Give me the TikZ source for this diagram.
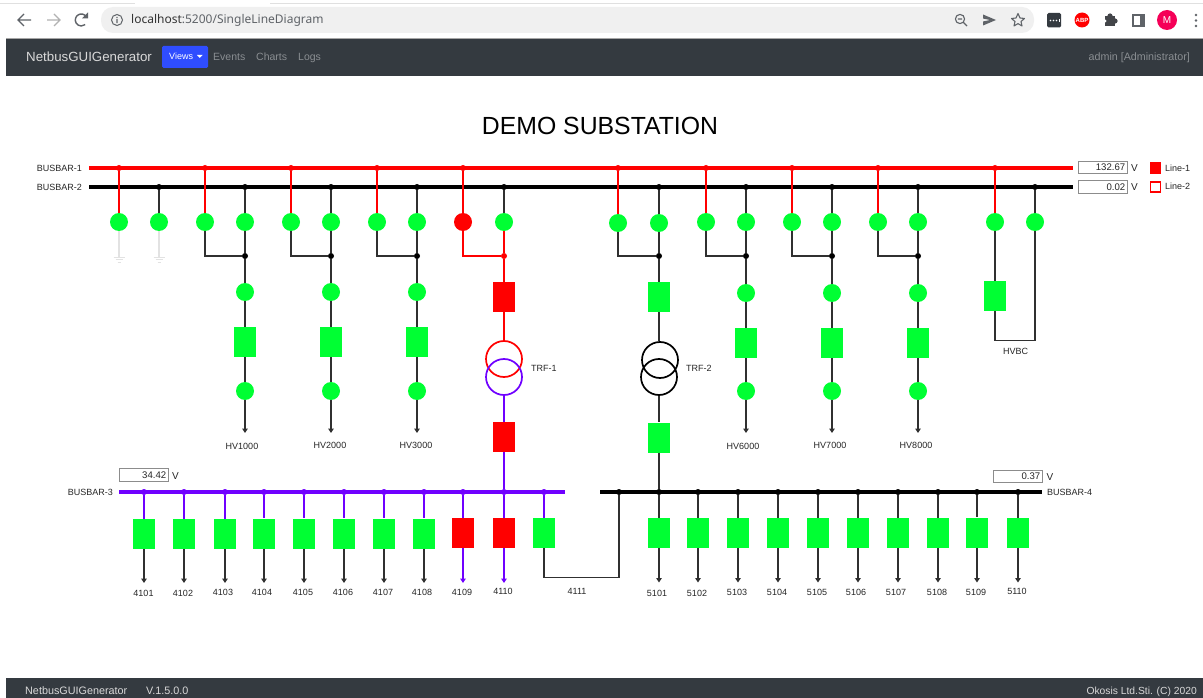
\documentclass[tikz,border=0pt]{standalone}
\usepackage{fontspec}
\setmainfont{Liberation Sans}
\newfontfamily\chromefont{Noto Sans}
\usetikzlibrary{arrows.meta}
\definecolor{gn}{HTML}{00FF33}
\definecolor{rd}{HTML}{FF0000}
\definecolor{bl}{HTML}{6F00FF}
\definecolor{dk}{HTML}{303030}
\definecolor{navc}{HTML}{343A40}
\definecolor{mut}{HTML}{8A8E92}
\definecolor{icn}{HTML}{5F6368}
\definecolor{grd}{HTML}{E2E2E2}
\definecolor{viewsc}{HTML}{2F4DFF}
\definecolor{pinkm}{HTML}{F50057}
\newcommand{\px}[1]{\fontsize{#1}{#1}\selectfont}
\tikzset{
  x=1pt,y=-1pt,
  txt/.style={inner sep=0pt,text=black!85,font=\px{9}},
  sw/.style={circle,minimum size=18pt,inner sep=0pt,fill=gn},
  swon/.style={sw,fill=rd},
  brk/.style={rectangle,minimum width=22pt,minimum height=30pt,inner sep=0pt,fill=gn},
  brkon/.style={brk,fill=rd},
  jn/.style={circle,minimum size=6pt,inner sep=0pt,fill=#1},
  jn/.default=black,
  busr/.style={line width=3.6pt,draw=rd},
  busk/.style={line width=3.6pt,draw=black},
  busb/.style={line width=3.6pt,draw=bl},
  wire/.style={line width=1.25pt,draw=dk},
  wr/.style={line width=1.15pt,draw=rd},
  wb/.style={line width=1.25pt,draw=bl},
  wg/.style={line width=1.25pt,draw=grd},
  arr/.style={-{Triangle[width=5.5pt,length=4.5pt]}},
  valbox/.style={rectangle,draw=black!45,line width=1.1pt,fill=white,inner xsep=0pt,inner ysep=0pt,
    minimum height=12.5pt,text width=49pt,align=right,font=\px{9.6},text=black!85},
  navt/.style={inner sep=0pt,text=mut,font=\px{10.5},text height=8pt,text depth=2pt},
  foott/.style={inner sep=0pt,text=black!15,text height=8pt,text depth=2pt},
  trr/.style={circle,minimum size=36pt,inner sep=0pt,line width=1.7pt}
}
\begin{document}
\begin{tikzpicture}
\useasboundingbox (0,0) rectangle (1203,698);
\fill[white] (0,0) rectangle (1203,698);
% ---------- browser chrome
\draw[black!12,line width=.8pt] (0,3) -- (135,3) (270,3) -- (1203,3);
\fill[black!6,rounded corners=12pt] (101,7) rectangle (1034,33);
\draw[icn,line width=1.4pt] (31,20) -- (18,20) (24,14) -- (18,20) -- (24,26);
\draw[black!30,line width=1.4pt] (47,20) -- (60,20) (54,14) -- (60,20) -- (54,26);
\draw[icn,line width=1.4pt] (86.5,17) arc[start angle=-30,end angle=-310,radius=6];
\fill[icn] (88,12.5) -- (88,18.5) -- (82,18.5) -- cycle;
\draw[icn,line width=1pt] (117,20) circle[radius=5.5];
\fill[icn] (116.4,19) rectangle (117.6,23.2) (116.4,16.8) rectangle (117.6,18);
\node[inner sep=0pt,anchor=west,font={\chromefont\px{12}},text=black!80] (url) at (131,20.7)
  {localhost\textcolor{icn}{:5200/SingleLineDiagram}};
\draw[icn,line width=1.1pt] (960,19) circle[radius=4.6] (963.5,22.5) -- (967,26) (957.8,19) -- (962.2,19);
\fill[icn] (983,14.5) -- (996,20) -- (983,25.5) -- (983,21.5) -- (990,20) -- (983,18.5) -- cycle;
\draw[icn,line width=1.1pt,line join=round] (1018,13.5) -- (1020,18) -- (1024.5,18.5) -- (1021,21.5) -- (1022,26) -- (1018,23.6) -- (1014,26) -- (1015,21.5) -- (1011.5,18.5) -- (1016,18) -- cycle;
\fill[navc,rounded corners=1.5pt] (1047,13) rectangle (1061,27.5);
\foreach \x in {1050.5,1053.5,1056.5} \fill[white] (\x,20.5) circle[radius=.8];
\fill[white] (1059,19) rectangle (1059.6,22);
\node[circle,fill=rd,minimum size=15pt,inner sep=0pt,text=white,font=\bfseries\px{6}] (abp) at (1082,20) {ABP};
\fill[icn!70!black] (1105,16) rectangle (1115,26);
\fill[icn!70!black] (1110,16) circle[radius=2.6] (1115,21) circle[radius=2.6];
\fill[white] (1105,21) circle[radius=1.6];
\draw[icn,line width=2pt] (1133,15) rectangle (1144,26);
\fill[icn] (1140,15) rectangle (1144,26);
\node[circle,fill=pinkm,minimum size=20pt,inner sep=0pt,text=white,font=\px{10}] (user) at (1167,20) {M};
\foreach \y in {15,20.5,26} \fill[icn] (1196,\y) circle[radius=1.3];
% ---------- navbar and footer
\fill[navc] (6,38) rectangle (1203,76);
\draw[black!35,line width=.7pt] (6,38) -- (1203,38);
\fill[navc] (6,678) rectangle (1203,698);
\node[foott,anchor=west,font=\px{13.3}] (brand) at (26,58.5) {NetbusGUIGenerator};
\fill[viewsc,rounded corners=1.5pt] (162,46) rectangle (208,68);
\node[inner sep=0pt,anchor=west,text=white,font=\px{9}] (views) at (169,56.5) {Views};
\fill[white] (197,55) -- (202.5,55) -- (199.75,58) -- cycle;
\node[navt,anchor=west] (events) at (213,58) {Events};
\node[navt,anchor=west] (charts) at (256,58) {Charts};
\node[navt,anchor=west] (logs) at (298,58) {Logs};
\node[navt,anchor=east,font=\px{10.7}] (admin) at (1190,58) {admin [Administrator]};
\node[foott,anchor=west,font=\px{10.8}] (fbrand) at (25,691.5) {NetbusGUIGenerator};
\node[foott,anchor=west,font=\px{10.8}] (fver) at (146,691.5) {V.1.5.0.0};
\node[foott,anchor=east,font=\px{10.3}] (fco) at (1197,691.5) {Okosis Ltd.Sti. (C) 2020};
% ---------- title
\node[inner sep=0pt,text=black,font=\px{24.8}] (title) at (600,126) {DEMO SUBSTATION};
% ---------- busbars
\coordinate (b1w) at (89,168); \coordinate (b1e) at (1073,168);
\coordinate (b2w) at (89,187); \coordinate (b2e) at (1073,187);
\coordinate (b3w) at (119,492); \coordinate (b3e) at (565,492);
\coordinate (b4w) at (600,492); \coordinate (b4e) at (1042,492);
\draw[busr] (b1w) -- (b1e);
\draw[busk] (b2w) -- (b2e);
\draw[busb] (b3w) -- (b3e);
\draw[busk] (b4w) -- (b4e);
\node[txt,anchor=east] (lb1) at (82,168) {BUSBAR-1};
\node[txt,anchor=east] (lb2) at (82,187) {BUSBAR-2};
\node[txt,anchor=east] (lb3) at (113,492) {BUSBAR-3};
\node[txt,anchor=west] (lb4) at (1047,492) {BUSBAR-4};
% value boxes
\node[valbox,anchor=west] (v1) at (1078.2,167.5) {132.67\hspace*{2.5pt}};
\node[valbox,anchor=west] (v2) at (1078.2,187) {0.02\hspace*{2.5pt}};
\node[valbox,anchor=west] (v3) at (119.2,475) {34.42\hspace*{2.5pt}};
\node[valbox,anchor=west] (v4) at (993.2,476.5) {0.37\hspace*{2.5pt}};
\node[txt,anchor=west,font=\px{10}] (u1) at (1131,168.5) {V};
\node[txt,anchor=west,font=\px{10}] (u2) at (1131,187.5) {V};
\node[txt,anchor=west,font=\px{10}] (u3) at (172,476) {V};
\node[txt,anchor=west,font=\px{10}] (u4) at (1046.5,477) {V};
% legend
\node[rectangle,fill=rd,minimum size=11.5pt,inner sep=0pt] (lg1) at (1155.5,168) {};
\node[rectangle,draw=rd,fill=white,line width=1.6pt,minimum size=10pt,inner sep=0pt] (lg2) at (1155.5,187) {};
\node[txt,anchor=west] (lt1) at (1165,168) {Line-1};
\node[txt,anchor=west] (lt2) at (1165,186.5) {Line-2};
% ---------- grounded bays
\foreach \x/\n in {119/a,159/b}{
  \node[sw] (g\n) at (\x,222) {};
  \coordinate (ge\n) at (\x,257);
  \draw[wg] (g\n) -- (ge\n);
  \draw[grd,line width=.8pt] (\x-5.5,257) -- (\x+5.5,257) (\x-3.5,259.5) -- (\x+3.5,259.5) (\x-1.5,262) -- (\x+1.5,262);
}
\node[jn=rd] (dga) at (119,168) {};
\node[jn] (dgb) at (159,187) {};
\draw[wr] (dga) -- (ga);
\draw[wire] (dgb) -- (gb);
% ---------- HV bays
\foreach \xa/\xb/\dy/\n/\lx/\ly in {205/245/0/1000/242/446,291/331/0/2000/330/445,377/417/0/3000/416/445,706/746/1/6000/743/446,792/832/1/7000/830/445,878/918/1/8000/916/445}{
  \node[jn=rd] (ta\n) at (\xa,168) {};
  \node[jn] (tb\n) at (\xb,187) {};
  \node[sw] (ca\n) at (\xa,222) {};
  \node[sw] (cb\n) at (\xb,222) {};
  \node[jn] (j\n) at (\xb,256) {};
  \node[sw] (s\n) at (\xb,292+\dy) {};
  \node[brk] (r\n) at (\xb,342+\dy) {};
  \node[sw] (o\n) at (\xb,391) {};
  \coordinate (e\n) at (\xb,433);
  \node[txt] (lab\n) at (\lx,\ly) {HV\n};
  \draw[wr] (ta\n) -- (ca\n);
  \draw[wire] (tb\n) -- (cb\n);
  \draw[wire] (ca\n) |- (j\n);
  \draw[wire] (cb\n) -- (j\n);
  \draw[wire] (j\n) -- (s\n);
  \draw[wire] (s\n) -- (r\n);
  \draw[wire] (r\n) -- (o\n);
  \draw[wire,arr] (o\n) -- (e\n);
}
% ---------- TRF-1
\node[jn=rd] (t1a) at (463,168) {};
\node[jn] (t1b) at (504,187) {};
\node[swon] (c1a) at (463,222) {};
\node[sw] (c1b) at (504,222) {};
\node[jn=rd] (j1) at (504,256) {};
\node[brkon] (r1a) at (504,297) {};
\node[trr,draw=rd] (tr1a) at (504,359) {};
\node[trr,draw=bl] (tr1b) at (504,377) {};
\node[brkon] (r1b) at (504,437) {};
\node[txt,anchor=west] (ltr1) at (531,368) {TRF-1};
\node[jn=bl] (d4110) at (504,492) {};
\draw[wr] (t1a) -- (c1a);
\draw[wire] (t1b) -- (c1b);
\draw[wr] (c1a) |- (j1);
\draw[wr] (c1b) -- (j1);
\draw[wr] (j1) -- (r1a);
\draw[wr] (r1a) -- (tr1a);
\draw[wb] (tr1b) -- (r1b);
\draw[wb] (r1b) -- (d4110);
% ---------- TRF-2
\node[jn=rd] (t2a) at (618,168) {};
\node[jn] (t2b) at (659,187) {};
\node[sw] (c2a) at (618,223) {};
\node[sw] (c2b) at (659,223) {};
\node[jn] (j2) at (659,256) {};
\node[brk] (r2a) at (659,297) {};
\node[trr,draw=black] (tr2a) at (660,360) {};
\node[trr,draw=black] (tr2b) at (659,377) {};
\node[brk] (r2b) at (659,437.5) {};
\node[txt,anchor=west] (ltr2) at (686,368) {TRF-2};
\node[jn] (d5101) at (659,492) {};
\draw[wr] (t2a) -- (c2a);
\draw[wire] (t2b) -- (c2b);
\draw[wire] (c2a) |- (j2);
\draw[wire] (c2b) -- (j2);
\draw[wire] (j2) -- (r2a);
\draw[wire] (r2a) -- (r2a |- tr2a.north);
\draw[wire] (tr2b) -- (r2b);
\draw[wire] (r2b) -- (d5101);
% ---------- HVBC
\node[jn=rd] (t3a) at (995,168) {};
\node[jn] (t3b) at (1035,187) {};
\node[sw] (c3a) at (995,222) {};
\node[sw] (c3b) at (1035,222) {};
\node[brk] (r3) at (995,296) {};
\coordinate (k3a) at (995,340.5);
\coordinate (k3b) at (1035,340.5);
\node[txt] (lhvbc) at (1015.5,351) {HVBC};
\draw[wr] (t3a) -- (c3a);
\draw[wire] (t3b) -- (c3b);
\draw[wire] (c3a) -- (r3);
\draw[wire] (r3) -- (k3a) -- (k3b) -- (c3b);
% ---------- busbar 3 feeders
\foreach \x/\ry/\n/\lx/\ly in {144/534/4101/143.5/593,184/534/4102/183/593,225/534/4103/223/592,264/533.5/4104/262/592,304/533.5/4105/303/592,344/533.5/4106/343/592,384/533.5/4107/383/592,424/533.5/4108/422/592}{
  \node[jn=bl] (d\n) at (\x,492) {};
  \node[brk] (r\n) at (\x,\ry) {};
  \coordinate (e\n) at (\x,583);
  \node[txt] (lab\n) at (\lx,\ly) {\n};
  \draw[wb] (d\n) -- (r\n);
  \draw[wire,arr] (r\n) -- (e\n);
}
\foreach \x/\n/\ly/\lx in {463/4109/592/462}{
  \node[jn=bl] (d\n) at (\x,492) {};
  \node[brkon] (r\n) at (\x,533) {};
  \coordinate (e\n) at (\x,583);
  \node[txt] (lab\n) at (\lx,\ly) {\n};
  \draw[wb] (d\n) -- (r\n);
  \draw[wb,arr] (r\n) -- (e\n);
}
\node[brkon] (r4110) at (504,533) {};
\coordinate (e4110) at (504,583);
\node[txt] (lab4110) at (503,591) {4110};
\draw[wb] (d4110) -- (r4110);
\draw[wb,arr] (r4110) -- (e4110);
% 4111 tie
\node[jn=bl] (d4111) at (544,492) {};
\node[brk] (r4111) at (544,533) {};
\node[jn] (d4111b) at (619,492) {};
\coordinate (k1) at (544,577.5);
\coordinate (k2) at (619,577.5);
\node[txt] (lab4111) at (577,591) {4111};
\draw[wb] (d4111) -- (r4111);
\draw[wire] (r4111) -- (k1) -- (k2) -- (d4111b);
% ---------- busbar 4 feeders
\foreach \x/\ry/\n/\lx/\ly in {659/533/5101/657/593,698/533/5102/697/593,738/533/5103/737/592,778/533/5104/777/592,818/533/5105/817/592,858/533/5106/856/592,898/533/5107/896/592,938/533/5108/937/592,977/532.5/5109/976/592,1018/533/5110/1017/591}{
  \ifnum\n=5101\relax\else\node[jn] (d\n) at (\x,492) {};\fi
  \node[brk] (r\n) at (\x,\ry) {};
  \coordinate (e\n) at (\x,582.5);
  \node[txt] (lab\n) at (\lx,\ly) {\n};
  \draw[wire] (d\n) -- (r\n);
  \draw[wire,arr] (r\n) -- (e\n);
}
\end{tikzpicture}
\end{document}
